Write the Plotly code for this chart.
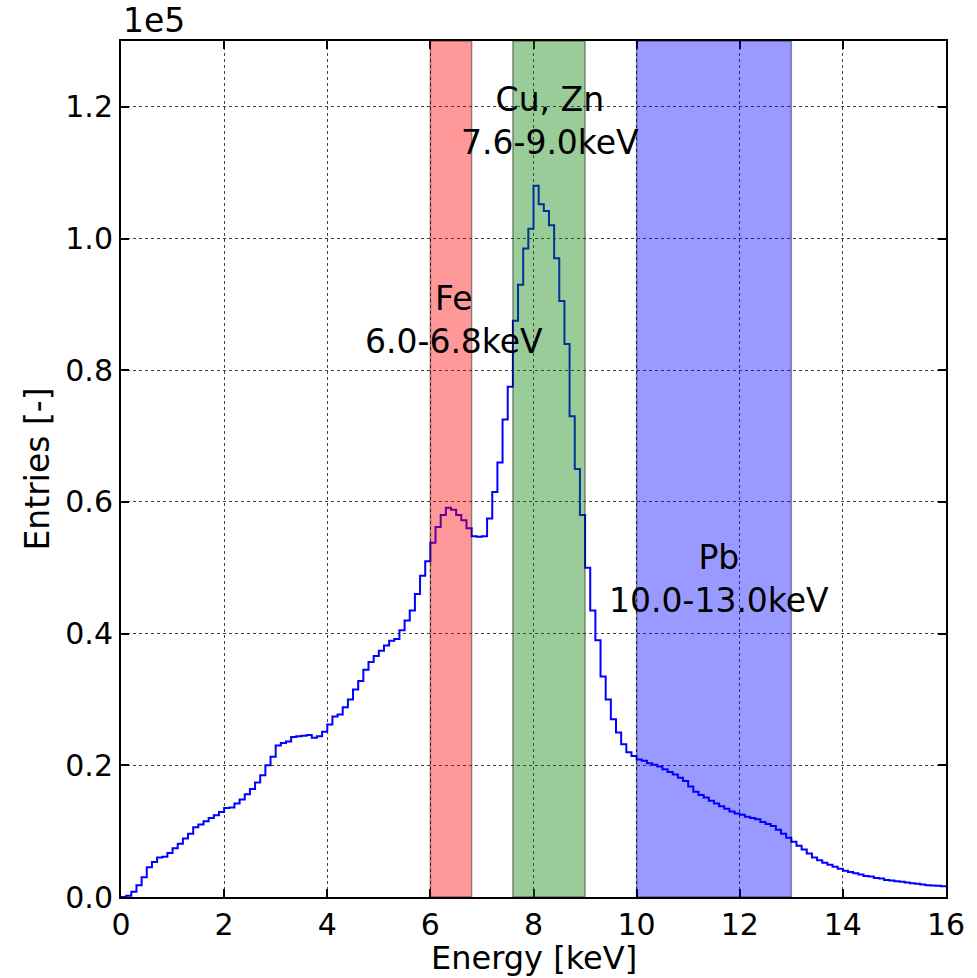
import numpy as np
import plotly.graph_objects as go

# Energy spectrum histogram: 0.1 keV bins from 0 to 16 keV
bin_width = 0.1
entries = [
    0, 200, 800, 1800, 3000, 4500, 5300, 6000, 6100, 6700,
    7400, 8100, 8900, 9600, 10600, 11000, 11500, 12000, 12400, 12900,
    13500, 13600, 14200, 14800, 15600, 16400, 17400, 18500, 20000, 21300,
    23000, 23400, 23600, 24300, 24400, 24500, 24600, 24200, 24400, 25100,
    26200, 27400, 27700, 28800, 30000, 31500, 32800, 34500, 35700, 36600,
    37400, 38200, 38900, 39200, 40500, 42000, 43500, 46000, 48800, 51000,
    53800, 56200, 58000, 59100, 58800, 58000, 57200, 56000, 54800, 54700,
    54800, 57500, 61500, 66000, 72500, 77500, 87500, 93000, 98500, 101500,
    108000, 105200, 104200, 102000, 97000, 90500, 84000, 73000, 65000, 58000,
    50000, 43500, 39000, 33500, 30000, 27000, 25000, 23200, 22000, 21400,
    20900, 20700, 20300, 20100, 19800, 19400, 19000, 18600, 18100, 17600,
    16800, 16000, 15500, 15100, 14600, 14200, 13800, 13400, 13000, 12700,
    12500, 12200, 12000, 11800, 11400, 11100, 10800, 10200, 9600, 9000,
    8400, 7800, 7200, 6600, 6000, 5600, 5200, 4900, 4600, 4300,
    4000, 3800, 3600, 3400, 3200, 3100, 2900, 2800, 2600, 2500,
    2400, 2300, 2200, 2100, 2000, 1900, 1800, 1750, 1700, 1650,
]

# Element energy windows
band_names = ["Fe", "Cu, Zn", "Pb"]
band_lo = [6.0, 7.6, 10.0]
band_hi = [6.8, 9.0, 13.0]
band_colors = ["rgba(255,0,0,0.4)", "rgba(0,128,0,0.4)", "rgba(0,0,255,0.4)"]
label_x = [6.45, 8.32, 11.6]
label_y = [87700, 117900, 48300]

x_ticks = [0, 2, 4, 6, 8, 10, 12, 14, 16]
y_ticks = [0, 20000, 40000, 60000, 80000, 100000, 120000]
y_tick_text = ["0.0", "0.2", "0.4", "0.6", "0.8", "1.0", "1.2"]

FONT = "DejaVu Sans"

edges = np.arange(len(entries) + 1) * bin_width
x_step = list(edges)
y_step = list(entries) + [entries[-1]]

fig = go.Figure()
fig.add_trace(go.Scatter(
    x=x_step, y=y_step, mode="lines", line_shape="hv",
    line=dict(color="#0000ff", width=2), showlegend=False, hoverinfo="skip",
))

for name, lo, hi, col, lx, ly in zip(band_names, band_lo, band_hi, band_colors, label_x, label_y):
    fig.add_shape(type="rect", xref="x", yref="paper", x0=lo, x1=hi, y0=0, y1=1,
                  fillcolor=col, line=dict(color="rgba(0,0,0,0.4)", width=1.5),
                  layer="above")
    fig.add_annotation(x=lx, y=ly, xref="x", yref="y",
                       text=f"{name}<br>{lo:.1f}-{hi:.1f}keV",
                       showarrow=False, font=dict(family=FONT, size=33, color="black"),
                       align="center", xanchor="center", yanchor="middle")

# Multiplier label for the y axis
fig.add_annotation(x=0, y=1, xref="paper", yref="paper", text="1e5",
                   showarrow=False, xanchor="left", yanchor="bottom", yshift=-1,
                   font=dict(family=FONT, size=33, color="black"))

# x-axis title placed just under the tick labels
fig.add_annotation(x=0.5, y=0, xref="paper", yref="paper", text="Energy [keV]",
                   showarrow=False, xanchor="center", yanchor="top", yshift=-40,
                   font=dict(family=FONT, size=32, color="black"))

axis_common = dict(
    showline=True, linecolor="black", linewidth=2, mirror="ticks",
    ticks="inside", ticklen=8, tickwidth=1.5, tickcolor="black",
    showgrid=True, gridcolor="rgba(0,0,0,0.75)", griddash="dot", gridwidth=1.2,
    zeroline=False, tickfont=dict(family=FONT, size=30, color="black"),
)

fig.update_xaxes(range=[0, 16], tickvals=x_ticks, **axis_common)
fig.update_yaxes(range=[0, 130000], tickvals=y_ticks, ticktext=y_tick_text,
                 title=dict(text="Entries [-]", font=dict(family=FONT, size=33, color="black"), standoff=6),
                 **axis_common)

fig.update_layout(
    width=977, height=978,
    margin=dict(l=121, r=29, t=41, b=81),
    plot_bgcolor="white", paper_bgcolor="white",
    font=dict(family=FONT),
)

fig.write_html("out.html")
